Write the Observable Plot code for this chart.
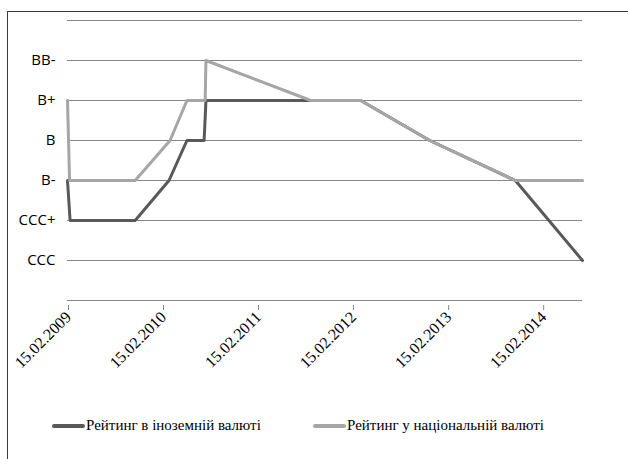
<!DOCTYPE html>
<html>
<head>
<meta charset="utf-8">
<script src="https://cdn.jsdelivr.net/npm/d3@7"></script>
<script src="https://cdn.jsdelivr.net/npm/@observablehq/plot@0.6"></script>
<style>
  html, body { margin: 0; padding: 0; background: #fff; }
  #wrap { position: relative; width: 628px; height: 459px; overflow: hidden; }
  #frame { position: absolute; left: 7px; top: 11px; width: 700px; height: 500px;
           border-left: 1px solid #3a3a3a; border-top: 1px solid #3a3a3a; }
  #chart { position: absolute; left: 0; top: 0; }
  #legend { position: absolute; left: 0; top: 417px; width: 628px; height: 22px;
            font-family: 'Liberation Serif', 'Times New Roman', 'DejaVu Serif', serif; font-size: 15px; color: #000; }
  .item { position: absolute; top: 0; display: flex; align-items: center; white-space: nowrap; }
  .sw { display: inline-block; width: 33px; height: 4px; border-radius: 2px; margin-right: 1px; }
</style>
</head>
<body>
<div id="wrap">
  <div id="frame"></div>
  <div id="chart"></div>
  <div id="legend"></div>
</div>
<script>
// Rating scale (index = vertical position); top and bottom levels unlabeled
const ratingLabels = ["", "CCC", "CCC+", "B-", "B", "B+", "BB-", ""];

// Foreign currency rating
const foreignDates = ["2009-02-15","2009-02-25","2009-11-02","2010-03-12","2010-05-20","2010-07-25","2010-08-01","2012-03-18","2012-12-08","2013-11-02","2014-07-18"];
const foreignRatings = ["B-","CCC+","CCC+","B-","B","B","B+","B+","B","B-","CCC"];

// National currency rating
const nationalDates = ["2009-02-15","2009-02-23","2009-11-02","2010-03-16","2010-05-20","2010-07-29","2010-08-01","2011-09-08","2012-03-18","2012-12-08","2013-11-02","2014-07-18"];
const nationalRatings = ["B+","B-","B-","B","B+","B+","BB-","B+","B+","B","B-","B-"];

// X tick dates
const tickDates = ["2009-02-15","2010-02-15","2011-02-15","2012-02-15","2013-02-15","2014-02-15"];

const seriesNames = ["Рейтинг в іноземній валюті", "Рейтинг у національній валюті"];
const seriesColors = ["#595959", "#a6a6a6"];

const parse = d3.utcParse("%Y-%m-%d");
const fmt = d3.utcFormat("%d.%m.%Y");
const idx = r => ratingLabels.indexOf(r);

const foreign = foreignDates.map((d, i) => ({date: parse(d), v: idx(foreignRatings[i])}));
const national = nationalDates.map((d, i) => ({date: parse(d), v: idx(nationalRatings[i])}));

const chart = Plot.plot({
  width: 628,
  height: 400,
  marginLeft: 67,
  marginRight: 46,
  marginTop: 20,
  marginBottom: 100,
  style: {background: "transparent", overflow: "visible"},
  x: {type: "utc", domain: [parse("2009-02-15"), parse("2014-07-18")]},
  y: {domain: [0, 7]},
  marks: [
    Plot.ruleY(d3.range(0, 8), {stroke: "#868686", strokeWidth: 1}),
    Plot.axisY({
      ticks: d3.range(1, 7),
      tickFormat: d => ratingLabels[d],
      tickSize: 0,
      tickPadding: 12,
      fontSize: 15,
      fontFamily: "'Open Sans', sans-serif",
      fill: "#000",
      label: null
    }),
    Plot.axisX({
      ticks: tickDates.map(parse),
      tickFormat: fmt,
      tickSize: 5,
      stroke: "#868686",
      tickRotate: -45,
      tickPadding: 4,
      dy: 5,
      dx: 1,
      fontSize: 16,
      fontFamily: "'Liberation Serif', 'Times New Roman', 'DejaVu Serif', serif",
      fill: "#000",
      label: null
    }),
    Plot.line(foreign, {x: "date", y: "v", stroke: seriesColors[0], strokeWidth: 3, strokeLinejoin: "round", strokeLinecap: "round"}),
    Plot.line(national, {x: "date", y: "v", stroke: seriesColors[1], strokeWidth: 3, strokeLinejoin: "round", strokeLinecap: "round"})
  ]
});
document.getElementById("chart").appendChild(chart);

const legend = document.getElementById("legend");
const lefts = [52, 313];
seriesNames.forEach((name, i) => {
  const it = document.createElement("div");
  it.className = "item";
  it.style.left = lefts[i] + "px";
  const sw = document.createElement("span");
  sw.className = "sw";
  sw.style.background = seriesColors[i];
  const t = document.createElement("span");
  t.textContent = name;
  it.appendChild(sw);
  it.appendChild(t);
  legend.appendChild(it);
});
</script>
</body>
</html>
